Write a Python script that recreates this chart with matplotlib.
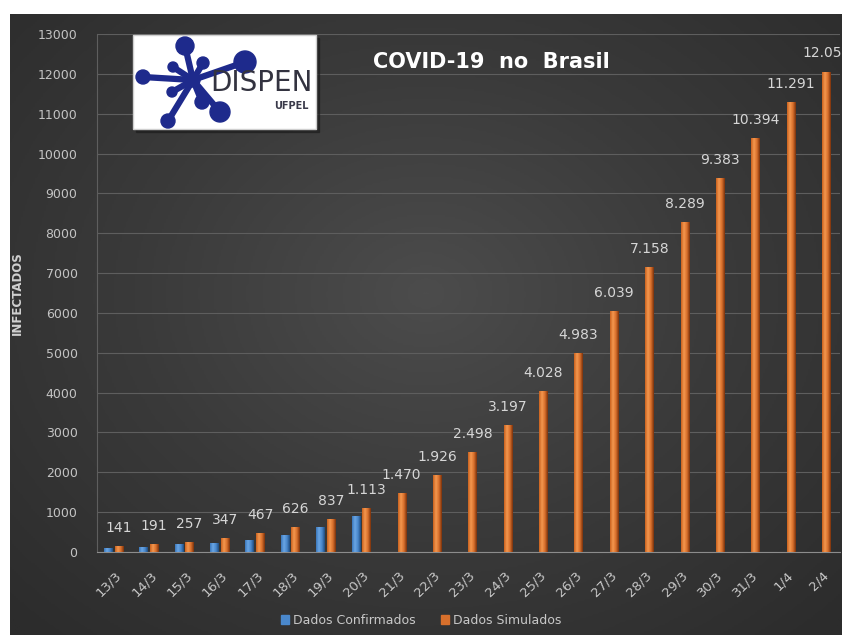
import matplotlib.pyplot as plt
import numpy as np
from matplotlib.patches import Circle, Patch, Rectangle

# Data
dias = ["13/3", "14/3", "15/3", "16/3", "17/3", "18/3", "19/3", "20/3", "21/3",
        "22/3", "23/3", "24/3", "25/3", "26/3", "27/3", "28/3", "29/3", "30/3",
        "31/3", "1/4", "2/4"]
confirmados = [98, 121, 200, 234, 291, 428, 621, 904]
simulados = [141, 191, 257, 347, 467, 626, 837, 1113, 1470, 1926, 2498, 3197,
             4028, 4983, 6039, 7158, 8289, 9383, 10394, 11291, 12058]

W, H = 842, 635
fig = plt.figure(figsize=(W / 100, H / 100), dpi=100)
fig.patch.set_facecolor("white")

# Dark radial background
bg = fig.add_axes([10 / W, 0, 1 - 10 / W, 1 - 14 / H])
yy, xx = np.mgrid[0:1:300j, 0:1:400j]
r = np.sqrt(((xx - 0.5) / 0.7) ** 2 + ((yy - 0.45) / 0.75) ** 2)
bg.imshow(np.clip(r, 0, 1), cmap=plt.matplotlib.colors.LinearSegmentedColormap.from_list(
    "bg", ["#4c4c4c", "#3a3a3a", "#2c2c2c"]), aspect="auto", extent=[0, 1, 0, 1])
bg.set_axis_off()

ax = fig.add_axes([97 / W, 1 - 552 / H, (840 - 97) / W, (552 - 34) / H])
ax.set_facecolor("none")

x = np.arange(len(dias))
w = 0.23


def shade(bars, cmap_cols):
    cmap = plt.matplotlib.colors.LinearSegmentedColormap.from_list("c", cmap_cols)
    grad = np.linspace(0, 1, 50).reshape(1, -1)
    for b in bars:
        x0, y0, bw, bh = b.get_x(), b.get_y(), b.get_width(), b.get_height()
        im = ax.imshow(grad, cmap=cmap, aspect="auto", extent=[x0, x0 + bw, y0, y0 + bh],
                       zorder=3)
        im.set_clip_path(b)


b1 = ax.bar(x[:len(confirmados)] - 0.19, confirmados, w, color="#4a88cc", zorder=2)
b2 = ax.bar(x + 0.11, simulados, w, color="#d8702c", zorder=2)
shade(b1, ["#3c78bb", "#6aa6e4", "#4a88cc", "#1f4d80"])
shade(b2, ["#c9621f", "#f4974f", "#d8702c", "#7a320c"])

for xi, v in zip(x, simulados):
    ax.annotate(f"{v:,}".replace(",", "."), (xi + 0.11, v), xytext=(0, 8),
                textcoords="offset points", ha="center", va="bottom",
                fontsize=10, color="#d6d6d6", annotation_clip=False)

ax.set_xlim(-0.5, len(dias) - 0.5)
ax.set_ylim(0, 13000)
ax.set_yticks(np.arange(0, 13001, 1000))
ax.tick_params(axis="y", length=0, pad=14, labelsize=9, labelcolor="#c4c4c4")
ax.set_xticks(x)
ax.set_xticklabels(dias, rotation=45, ha="right", rotation_mode="anchor",
                   fontsize=9.5, color="#c8c8c8")
ax.tick_params(axis="x", length=0, pad=12)
ax.grid(axis="y", color="#5e5e5e", lw=0.8, zorder=0)
for s in ["top", "right"]:
    ax.spines[s].set_visible(False)
ax.spines["bottom"].set_color("#8c8c8c")
ax.spines["left"].set_color("#5e5e5e")
ax.set_ylabel("INFECTADOS", fontsize=8.5, fontweight="bold", color="#d0d0d0",
              labelpad=10)

fig.text(491 / W, 1 - 62 / H, "COVID-19  no  Brasil", ha="center", va="center",
         fontsize=15, fontweight="bold", color="white")

# Logo
lg = fig.add_axes([0, 0, 1, 1], facecolor="none")
lg.set_xlim(0, W)
lg.set_ylim(H, 0)
lg.set_axis_off()
lg.add_patch(Rectangle((136, 38), 183, 94, color="#1c1c1c", alpha=0.6))
lg.add_patch(Rectangle((133, 35), 183, 94, facecolor="white", edgecolor="#cfcfcf"))
hub = (193, 80)
nodes = [(185, 46, 9), (173, 67, 5), (203, 63, 6), (245, 62, 11), (143, 77, 7),
         (172, 92, 5), (202, 102, 7), (220, 112, 10), (168, 121, 7)]
for nx, ny, nr in nodes:
    lg.plot([hub[0], nx], [hub[1], ny], color="#1e2a8c", lw=4.5,
            solid_capstyle="round")
    lg.add_patch(Circle((nx, ny), nr, color="#1e2a8c"))
lg.add_patch(Circle(hub, 7, color="#1e2a8c"))
lg.text(313, 83, "DISPEN", ha="right", va="center", fontsize=20,
        color="#333340")
lg.text(309, 106, "UFPEL", ha="right", va="center", fontsize=7,
        fontweight="bold", color="#3a3a4a")

fig.legend(handles=[Patch(color="#4a88cc"), Patch(color="#d8702c")],
           labels=["Dados Confirmados", "Dados Simulados"], loc="lower center",
           bbox_to_anchor=(0.5, -0.005), ncol=2, frameon=False, fontsize=9,
           labelcolor="#c8c8c8", handlelength=0.7, handleheight=0.7,
           handletextpad=0.3, columnspacing=2)

fig.savefig("out.png", dpi=100)
